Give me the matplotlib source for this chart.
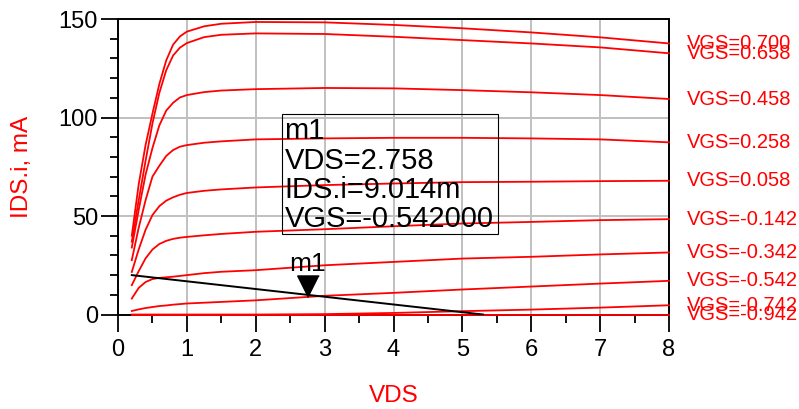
import matplotlib
matplotlib.use("Agg")
import matplotlib.pyplot as plt
from matplotlib.patches import Rectangle
from matplotlib.ticker import MultipleLocator

plt.rcParams['font.family'] = ['Liberation Sans', 'DejaVu Sans']

# drain voltage sweep (V)
vds = [0.2, 0.3, 0.4, 0.5, 0.6, 0.7, 0.8, 0.9, 1.0, 1.25, 1.5, 2, 3, 4, 5, 6, 7, 8]

# drain current (mA), one list per VGS step
ids_p0700 = [40, 66, 86, 102, 117, 129, 137, 141.2, 143.6, 146.3, 147.6, 148.5, 148.3, 147, 145.3, 143.2, 140.7, 137.6]
ids_p0658 = [37, 58, 78, 97, 112.5, 124, 131.5, 135.5, 137.8, 140.8, 142, 142.7, 142.4, 141, 139.3, 137.6, 135.6, 132.6]
ids_p0458 = [34, 53, 71, 84.5, 96, 103.5, 107.5, 110.2, 111.4, 112.9, 113.7, 114.4, 115, 114.8, 113.9, 112.8, 111.4, 109.4]
ids_p0258 = [27.6, 44, 58, 70, 75.5, 80.5, 83.5, 85.2, 86, 87.2, 87.9, 88.9, 89.4, 89.7, 89.7, 89.4, 88.9, 87.4]
ids_p0058 = [21.6, 33, 43, 50.5, 55, 57.8, 59.5, 60.8, 61.7, 62.8, 63.5, 64.5, 65.7, 66.5, 67.2, 67.4, 67.7, 67.9]
ids_m0142 = [14.9, 22, 28.5, 33, 35.8, 37.4, 38.4, 39, 39.4, 40.2, 40.9, 42, 43.3, 44.8, 46.2, 47, 47.9, 48.4]
ids_m0342 = [8.1, 13.5, 16.5, 18, 18.6, 18.9, 19.2, 19.6, 20, 21, 21.7, 22.5, 25, 26.7, 28.4, 29.3, 30.5, 31.5]
ids_m0542 = [1.8, 2.6, 3.3, 3.8, 4.3, 4.6, 5.0, 5.3, 5.6, 6.0, 6.4, 7.2, 9.5, 11, 12.7, 14.2, 15.7, 17.1]
ids_m0742 = [0, 0, 0, 0, 0, 0, 0, 0, 0, 0, 0, 0, 0.2, 0.8, 1.7, 2.5, 3.5, 4.7]
ids_m0942 = [0, 0, 0, 0, 0, 0, 0, 0, 0, 0, 0, 0, 0, 0, 0, 0, 0, 0]

curves = [ids_p0700, ids_p0658, ids_p0458, ids_p0258, ids_p0058,
          ids_m0142, ids_m0342, ids_m0542, ids_m0742, ids_m0942]
curve_labels = ["VGS=0.700", "VGS=0.658", "VGS=0.458", "VGS=0.258", "VGS=0.058",
                "VGS=-0.142", "VGS=-0.342", "VGS=-0.542", "VGS=-0.742", "VGS=-0.942"]

# load line and marker
load_vds = [0.2, 5.3]
load_ids = [20, 0]
m1_vds = 2.758
m1_ids = 9.014
m1_lines = ["m1", "VDS=2.758", "IDS.i=9.014m", "VGS=-0.542000"]

fig = plt.figure(figsize=(7.99, 4.09), dpi=100)
ax = fig.add_axes([0.1477, 0.231, 0.6896, 0.7225])

for ids, lab in zip(curves, curve_labels):
    ax.plot(vds, ids, color='red', lw=1.3, zorder=3, clip_on=False)
    ax.annotate(lab, xy=(vds[-1], ids[-1]), xytext=(13, 0), textcoords='offset points',
                color='red', fontsize=14.5, va='center', ha='left', annotation_clip=False)

ax.plot(load_vds, load_ids, color='black', lw=1.4, zorder=4)

# marker triangle, tip sitting on the point
tri = [(0, 0), (-1, 2), (1, 2)]
ax.plot([m1_vds], [m1_ids], marker=tri, markersize=31, color='black', zorder=5)
ax.annotate("m1", xy=(m1_vds, m1_ids), xytext=(0, 18.5), textcoords='offset points',
            ha='center', va='baseline', fontsize=19, zorder=5)

# readout box
ax.add_patch(Rectangle((0.2982, 0.271), 0.3918, 0.406, transform=ax.transAxes,
                       fill=False, edgecolor='black', lw=0.8, zorder=5))
for i, txt in enumerate(m1_lines):
    ax.text(0.302, 0.5926 - i * 0.0985, txt, transform=ax.transAxes,
            fontsize=21, va='baseline', ha='left', zorder=6)

ax.set_xlim(0, 8)
ax.set_ylim(0, 150)
ax.xaxis.set_major_locator(MultipleLocator(1))
ax.xaxis.set_minor_locator(MultipleLocator(0.5))
ax.yaxis.set_major_locator(MultipleLocator(50))
ax.yaxis.set_minor_locator(MultipleLocator(10))
ax.tick_params(which='major', direction='out', length=12.5, width=1.3, labelsize=17)
ax.tick_params(axis='x', which='major', pad=5)
ax.tick_params(axis='y', which='major', pad=2)
ax.tick_params(which='minor', direction='out', length=6, width=1.3)
ax.grid(True, which='major', color='#c0c0c0', lw=1.4)
ax.set_axisbelow(True)
for sp in ax.spines.values():
    sp.set_linewidth(1.4)

ax.set_xlabel("VDS", color='red', fontsize=17.5)
ax.set_ylabel("IDS.i, mA", color='red', fontsize=17.5)
ax.xaxis.set_label_coords(0.5, -0.24)
ax.yaxis.set_label_coords(-0.155, 0.5)

fig.savefig("out.png", dpi=100)
